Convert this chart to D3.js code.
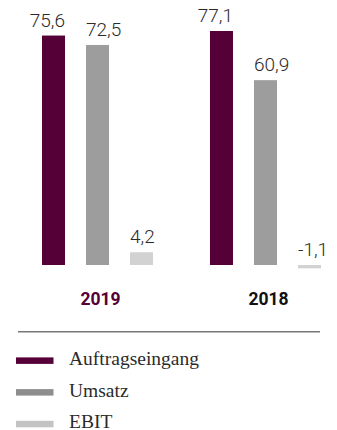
<!DOCTYPE html>
<html>
<head>
<meta charset="utf-8">
<script src="https://cdn.jsdelivr.net/npm/d3@7"></script>
<style>
  html, body { margin: 0; padding: 0; background: #fff; }
  svg { display: block; }
</style>
</head>
<body>
<svg id="chart" width="337" height="430"></svg>
<script>
// Kennzahlen in Mio. EUR
const years = ["2019", "2018"];
const series = ["Auftragseingang", "Umsatz", "EBIT"];
const auftragseingang = [75.6, 77.1];
const umsatz = [72.5, 60.9];
const ebit = [4.2, -1.1];
const valueLabels = [["75,6", "72,5", "4,2"], ["77,1", "60,9", "-1,1"]];

const barColors = { Auftragseingang: "#560038", Umsatz: "#9d9d9d", EBIT: "#d2d2d2" };
const legendColors = { Auftragseingang: "#560038", Umsatz: "#8e8e8e", EBIT: "#c3c3c3" };
const yearColors = { "2019": "#560038", "2018": "#111111" };
// first bar's value sits flush right with the bar, the others flush left
const labelAnchor = { Auftragseingang: "end", Umsatz: "start", EBIT: "start" };

const rows = years.map((yr, i) => ({
  year: yr,
  values: [
    { key: "Auftragseingang", value: auftragseingang[i], label: valueLabels[i][0] },
    { key: "Umsatz", value: umsatz[i], label: valueLabels[i][1] },
    { key: "EBIT", value: ebit[i], label: valueLabels[i][2] }
  ]
}));

const svg = d3.select("#chart");

const x0 = d3.scaleBand().domain(years).range([42, 321]).paddingInner(0.339).paddingOuter(0);
const x1 = d3.scaleBand().domain(series).range([0, x0.bandwidth()]).paddingInner(0.477).paddingOuter(0);
const y = d3.scaleLinear().domain([0, 80]).range([265, 265 - 80 * 3.035]);

const groups = svg.selectAll("g.year")
  .data(rows)
  .join("g")
  .attr("class", "year")
  .attr("transform", d => `translate(${x0(d.year)},0)`);

groups.selectAll("rect")
  .data(d => d.values)
  .join("rect")
  .attr("x", d => x1(d.key))
  .attr("width", x1.bandwidth())
  .attr("y", d => Math.min(y(d.value), y(0)))
  .attr("height", d => Math.abs(y(d.value) - y(0)))
  .attr("fill", d => barColors[d.key]);

groups.selectAll("text.val")
  .data(d => d.values)
  .join("text")
  .attr("class", "val")
  .attr("x", d => labelAnchor[d.key] === "end" ? x1(d.key) + x1.bandwidth() : x1(d.key))
  .attr("y", d => Math.min(y(d.value), y(0)) - 9)
  .attr("text-anchor", d => labelAnchor[d.key])
  .attr("font-family", "Roboto, sans-serif")
  .attr("font-weight", 300)
  .attr("font-size", 19)
  .attr("fill", "#2b2b2b")
  .text(d => d.label);

groups.append("text")
  .attr("x", x0.bandwidth() / 2 + 3)
  .attr("y", 305)
  .attr("text-anchor", "middle")
  .attr("font-family", "Roboto, sans-serif")
  .attr("font-weight", 700)
  .attr("font-size", 17.5)
  .attr("fill", d => yearColors[d.year])
  .text(d => d.year);

// Trennlinie
svg.append("line")
  .attr("x1", 18).attr("x2", 320)
  .attr("y1", 331.7).attr("y2", 331.7)
  .attr("stroke", "#777")
  .attr("stroke-width", 1.4);

// Legende
const legend = svg.selectAll("g.legend")
  .data(series)
  .join("g")
  .attr("class", "legend")
  .attr("transform", (d, i) => `translate(0,${360.7 + i * 31.7})`);

legend.append("rect")
  .attr("x", 16).attr("y", -3.3)
  .attr("width", 37.5).attr("height", 6.5)
  .attr("fill", d => legendColors[d]);

legend.append("text")
  .attr("x", 69)
  .attr("y", 4.3)
  .attr("font-family", "'Liberation Serif', serif")
  .attr("font-size", 19.5)
  .attr("fill", "#2b2b2b")
  .text(d => d);
</script>
</body>
</html>
